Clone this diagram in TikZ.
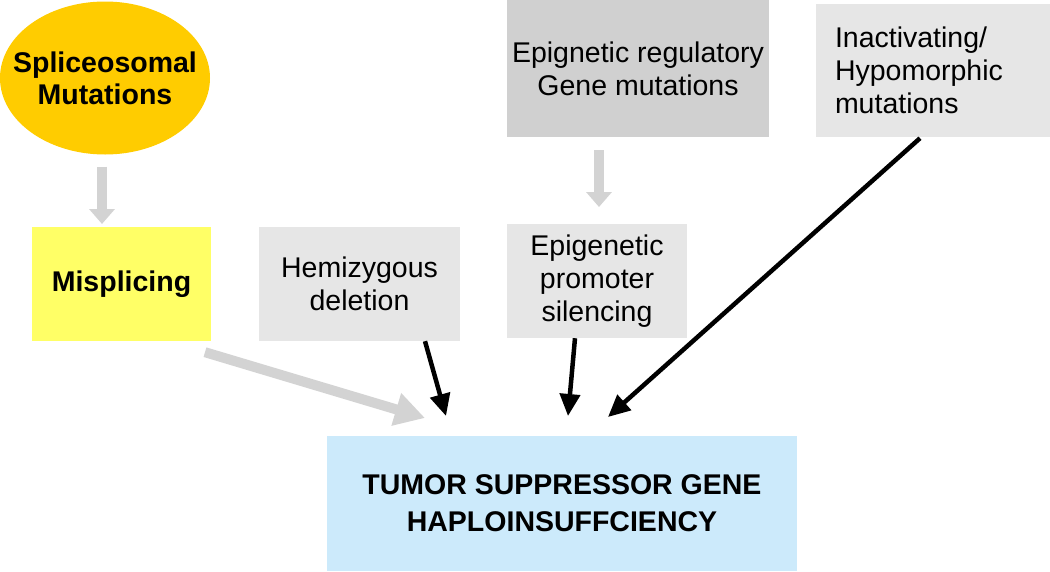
\documentclass[tikz,border=0pt]{standalone}
\usepackage{fontspec}
\setmainfont{Liberation Sans}
\usetikzlibrary{shapes.geometric,arrows.meta}

\definecolor{spliceorange}{HTML}{FFCC00}
\definecolor{misyellow}{HTML}{FFFF66}
\definecolor{boxgray}{HTML}{E6E6E6}
\definecolor{darkgray}{HTML}{D0D0D0}
\definecolor{arrowgray}{HTML}{D3D3D3}
\definecolor{tsgblue}{HTML}{CCEAFB}

\begin{document}
\begin{tikzpicture}[x=1pt,y=-1pt,
	every node/.style={font=\fontsize{28.5}{33}\selectfont, inner sep=0pt, align=center},
	graybox/.style={rectangle, fill=boxgray},
	grayarrow/.style={draw=arrowgray, line width=10pt, -{Triangle[length=15pt,width=25pt]}},
	blackarrow/.style={draw=black, line width=4.5pt, -{Triangle[length=22pt,width=20pt]}}]
	
	\useasboundingbox (0,0) rectangle (1050,571);
	
	% top row
	\node[ellipse, fill=spliceorange, minimum width=210pt, minimum height=153pt, inner xsep=-18pt,
	font=\fontsize{28.5}{32}\selectfont\bfseries] (spl) at (105,78) {Spliceosomal\\Mutations};
	\node[rectangle, fill=darkgray, minimum width=262pt, minimum height=137pt] (epireg) at (638,68.5)
	{Epignetic regulatory\\Gene mutations};
	\node[graybox, minimum width=234pt, minimum height=133pt, text width=196pt, inner xsep=19pt, align=left]
	(inact) at (933,70.5) {Inactivating/\\Hypomorphic\\mutations};
	
	% middle row
	\node[rectangle, fill=misyellow, minimum width=179pt, minimum height=114pt,
	font=\fontsize{28.5}{33}\selectfont\bfseries] (mis) at (121.5,284) {Misplicing};
	\node[graybox, minimum width=201pt, minimum height=114pt] (hemi) at (359.5,284) {Hemizygous\\deletion};
	\node[graybox, minimum width=180pt, minimum height=114pt] (promo) at (597,281)
	{Epigenetic\\promoter\\silencing};
	
	% bottom box
	\node[rectangle, fill=tsgblue, minimum width=470pt, minimum height=135pt,
	font=\fontsize{28.5}{37}\selectfont\bfseries] (tsg) at (562,503.5)
	{TUMOR SUPPRESSOR GENE\\HAPLOINSUFFCIENCY};
	
	% arrow tips
	\coordinate (t1) at (102,224);
	\coordinate (t2) at (599,207);
	\coordinate (t3) at (425,418);
	\coordinate (t4) at (446,416);
	\coordinate (t5) at (568,416);
	\coordinate (t6) at (608,417);
	
	% arrows
	\draw[grayarrow] ([xshift=-3pt,yshift=-12pt]spl.south) -- (t1);
	\draw[grayarrow] ([xshift=-39pt,yshift=-13pt]epireg.south) -- (t2);
	\draw[grayarrow, -{Triangle[length=30pt,width=32pt]}] ([xshift=83.5pt,yshift=-11pt]mis.south) -- (t3);
	\draw[blackarrow] ([xshift=65.5pt]hemi.south) -- (t4);
	\draw[blackarrow] ([xshift=-22pt]promo.south) -- (t5);
	\draw[blackarrow] ([xshift=-13pt,yshift=-1pt]inact.south) -- (t6);
	
\end{tikzpicture}
\end{document}
